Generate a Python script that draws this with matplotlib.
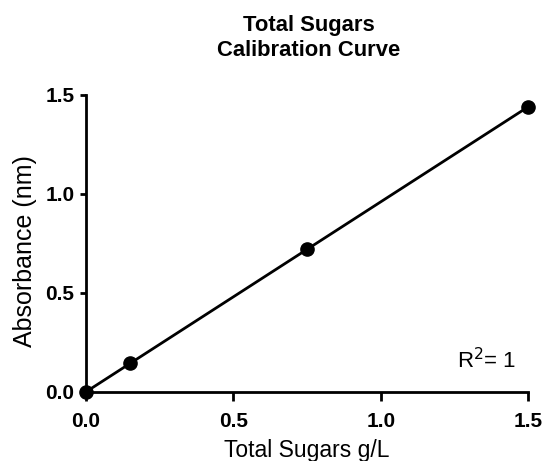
import numpy as np
import matplotlib
matplotlib.use('Agg')
import matplotlib.pyplot as plt

plt.rcParams['font.family'] = ['Liberation Sans', 'DejaVu Sans']

# calibration standards
conc = [0.0, 0.15, 0.75, 1.5]          # Total Sugars g/L
absorb = [0.0, 0.145, 0.72, 1.44]      # Absorbance (nm)
ticks = [0.0, 0.5, 1.0, 1.5]
tick_labels = ['0.0', '0.5', '1.0', '1.5']

fig = plt.figure(figsize=(5.45, 4.61), dpi=100)
ax = fig.add_axes([0.158, 0.150, 0.811, 0.644])

# linear fit through the standards
slope, intercept = np.polyfit(conc, absorb, 1)
xfit = np.array([min(conc), max(conc)])
ax.plot(xfit, slope * xfit + intercept, color='black', linewidth=2.0, clip_on=False)
ax.plot(conc, absorb, 'o', color='black', markersize=9.5, clip_on=False, zorder=3)

ax.set_xlim(0, 1.5)
ax.set_ylim(0, 1.5)
ax.set_xticks(ticks)
ax.set_yticks(ticks)
ax.set_xticklabels(tick_labels, fontweight='bold', fontsize=15)
ax.set_yticklabels(tick_labels, fontweight='bold', fontsize=15)

for side in ['top', 'right']:
    ax.spines[side].set_visible(False)
for side in ['left', 'bottom']:
    ax.spines[side].set_linewidth(2.0)
ax.tick_params(axis='x', direction='out', length=6.5, width=2.0, pad=8)
ax.tick_params(axis='y', direction='out', length=4.5, width=2.0, pad=4)

ax.set_xlabel('Total Sugars g/L', fontsize=16.5, labelpad=6)
ax.set_ylabel('Absorbance (nm)', fontsize=18)
ax.yaxis.set_label_coords(-0.110, 0.475)
ax.text(0.973, 0.105, r'R$^2$= 1', transform=ax.transAxes, fontsize=16,
        ha='right', va='center')

fig.text(0.567, 0.917, 'Total Sugars\nCalibration Curve', ha='center', va='center',
         fontweight='bold', fontsize=15.8, linespacing=1.25)

fig.savefig('out.png', dpi=100)
